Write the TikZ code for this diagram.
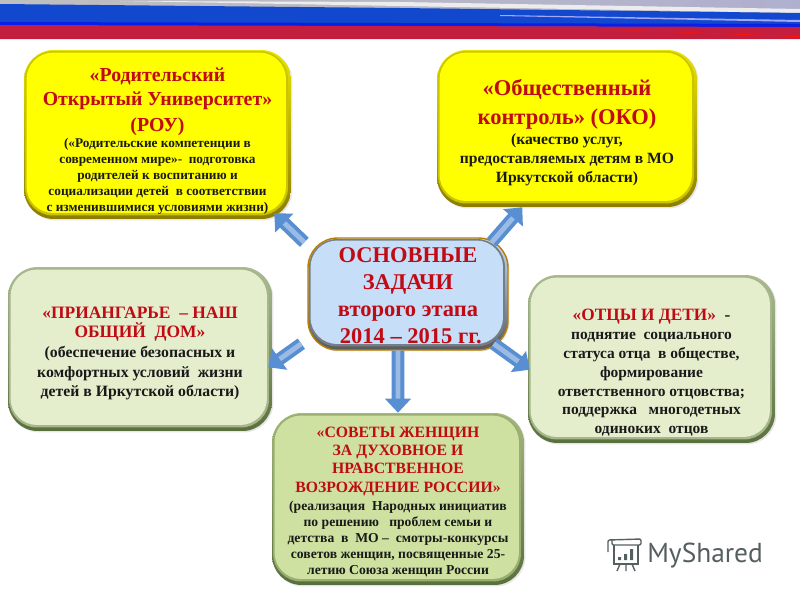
\documentclass[tikz,border=0pt]{standalone}
\usepackage{fontspec}
\setmainfont{Liberation Serif}
\newfontfamily\logofont{PT Sans}
\usepackage{xcolor}
\definecolor{TaskRed}{RGB}{192,10,20}
\definecolor{TaskInk}{RGB}{25,25,25}
\definecolor{TaskYellow}{RGB}{255,255,0}
\definecolor{TaskGold}{RGB}{140,125,0}
\definecolor{TaskBlue}{RGB}{198,222,248}
\definecolor{TaskLeaf}{RGB}{206,225,160}
\definecolor{TaskPale}{RGB}{228,238,205}
\definecolor{TaskMoss}{RGB}{90,112,60}
\definecolor{FlagBlue}{RGB}{18,72,205}
\definecolor{FlagRed}{RGB}{196,30,62}
\definecolor{ArrowBlue}{RGB}{88,142,210}
\definecolor{LogoGrey}{RGB}{85,95,95}
\usepackage{tikz}
\usetikzlibrary{arrows.meta,shadows}
\newcommand*{\redline}[1]{\fontsize{#1}{#1}\selectfont\color{TaskRed}}
\newcommand*{\inkline}[1]{\fontsize{#1}{#1}\selectfont\color{TaskInk}}
\newcommand*{\topgap}[1]{\rule{0pt}{#1pt}}
\tikzset{
  panel/.style n args={4}{rounded corners=21pt,align=center,
    font=\bfseries\fontsize{10}{#4}\selectfont,
    inner sep=0pt,top color=#1,bottom color=#2,
    drop shadow={shadow xshift=1pt,shadow yshift=-1pt,opacity=.2},
    path picture={
      \fill[#3!55!#2,rounded corners=20pt]
        ([shift={(1,1)}]path picture bounding box.north west) rectangle
        ([shift={(-3,-3.5)}]path picture bounding box.south east);
      \fill[#3,rounded corners=19pt]
        ([shift={(2.5,2.5)}]path picture bounding box.north west) rectangle
        ([shift={(-5,-6)}]path picture bounding box.south east);
    }},
  blockarrow/.style={line width=9pt,draw=ArrowBlue,
    -{Triangle[width=18pt,length=10pt]},
    postaction={draw=ArrowBlue!60!white,line width=3.5pt,-,shorten >=10pt}},
}
\begin{document}
\begin{tikzpicture}[x=0.025cm,y=-0.025cm]
    \useasboundingbox (0,0) rectangle (800,600);
    % flag band
    \shade[left color=gray!50,right color=blue!25!gray!50] (0,0) rectangle (800,14);
    \fill[white!85!gray] (120,1) -- (400,6) -- (800,13) -- (800,9) -- (400,2) -- cycle;
    \fill[FlagBlue] (0,4) -- (200,6) -- (400,8) -- (800,13) -- (800,27) -- (0,26) -- cycle;
    \fill[blue!55!FlagBlue] (0,22) -- (800,24) -- (800,27) -- (0,26) -- cycle;
    \fill[blue!35!white] (500,15) -- (800,20) -- (800,22) -- (500,16) -- cycle;
    \fill[FlagRed] (0,25) -- (800,27) -- (800,39) -- (0,39) -- cycle;
    \fill[red!85!orange] (590,29) -- (800,36) -- (800,37) -- cycle;
    % panels
    \node[panel={TaskYellow!80!TaskGold}{TaskGold}{TaskYellow}{11.4},minimum width=267*0.711pt,minimum height=169*0.711pt]
      (rou) at (157.5,134.5) {\redline{14.1}\topgap{19}«Родительский\\[4.2pt]
      \redline{14.1}Открытый Университет»\\[4.2pt]
      \redline{14.1}(РОУ)\\[0pt]
      \inkline{9.45}(«Родительские компетенции в\\
      \inkline{9.45}современном мире»-~ подготовка\\
      \inkline{9.45}родителей к воспитанию и\\
      \inkline{9.45}социализации детей~ в соответствии\\
      \inkline{9.45}с изменившимися условиями жизни)};
    \node[panel={TaskYellow!80!TaskGold}{TaskGold}{TaskYellow}{13.2},minimum width=260*0.711pt,minimum height=157*0.711pt]
      (oko) at (567,128.5) {\redline{16}\topgap{17}«Общественный\\[6pt]
      \redline{16}контроль» (ОКО)\\[1pt]
      \inkline{11.1}(качество услуг,\\
      \inkline{11.1}предоставляемых детям в МО\\
      \inkline{11.1}Иркутской области)};
    \node[panel={TaskPale!60!TaskMoss}{TaskMoss}{TaskPale}{14},minimum width=264*0.711pt,minimum height=164*0.711pt]
      (home) at (140,349) {\redline{12.4}\topgap{14.5}«ПРИАНГАРЬЕ~ – НАШ\\
      \redline{12.4}ОБЩИЙ~ ДОМ»\\
      \inkline{11.2}(обеспечение безопасных и\\
      \inkline{11.2}комфортных условий~ жизни\\
      \inkline{11.2}детей в Иркутской области)};
    \node[panel={TaskPale!60!TaskMoss}{TaskMoss}{TaskPale}{13.4},minimum width=247*0.711pt,minimum height=168*0.711pt]
      (dads) at (651.5,359) {\redline{12.3}\topgap{27.8}«ОТЦЫ И ДЕТИ»~~\color{TaskInk}-\\
      \inkline{11}поднятие~ социального\\
      \inkline{11}статуса отца~ в обществе,\\
      \inkline{11}формирование\\
      \inkline{11}ответственного отцовства;\\
      \inkline{11}поддержка~~ многодетных\\
      \inkline{11}одиноких~ отцов};
    \node[panel={TaskLeaf!65!TaskMoss}{TaskMoss}{TaskLeaf}{11.4},minimum width=252*0.711pt,minimum height=172*0.711pt]
      (women) at (398,499) {\redline{11.2}\topgap{11.4}«СОВЕТЫ ЖЕНЩИН\\[1.6pt]
      \redline{11.2}ЗА ДУХОВНОЕ И\\[1.6pt]
      \redline{11.2}НРАВСТВЕННОЕ\\[1.6pt]
      \redline{11.2}ВОЗРОЖДЕНИЕ РОССИИ»\\[1.4pt]
      \inkline{9.7}(реализация~ Народных инициатив\\
      \inkline{9.7}по решению~ ~проблем семьи и\\
      \inkline{9.7}детства~ в~ МО –~ смотры-конкурсы\\
      \inkline{9.7}советов женщин, посвященные 25-\\
      \inkline{9.7}летию Союза женщин России};
    \node[panel={TaskBlue}{gray!70!black}{TaskBlue}{19},draw=TaskGold!60!orange,line width=1pt,
      minimum width=200*0.711pt,minimum height=112*0.711pt]
      (tasks) at (408,294) {\redline{16}\topgap{13}ОСНОВНЫЕ\\
      \redline{16}ЗАДАЧИ\\
      \redline{16}второго этапа\\
      \redline{16}~2014 – 2015 гг.};
    % arrows
    \draw[blockarrow] ([shift={(-3,5)}]tasks.north west) -- ([shift={(-17,-6)}]rou.south east);
    \draw[blockarrow] ([shift={(-17,5)}]tasks.north east) -- ([shift={(-175,0)}]oko.south east);
    \draw[blockarrow] ([shift={(-6,-7)}]tasks.south west) -- ([shift={(-4,-64)}]home.south east);
    \draw[blockarrow] ([shift={(-15,-7)}]tasks.south east) -- ([shift={(2,95)}]dads.north west);
    \draw[blockarrow] ([xshift=-10*0.711pt]tasks.south) -- (women.north);
    % logo
    \node[text=LogoGrey,font=\logofont\fontsize{19.5}{22}\selectfont,anchor=base west,inner sep=0pt]
      (logo) at (647,562) {MyShared};
    \draw[LogoGrey,line width=1pt,rounded corners=1pt] (608,552) -- (608,540) -- (641,539) -- (641,545) -- (612,545) -- (612,540);
    \draw[LogoGrey,line width=1pt] (614,545) -- (614,564) -- (638,564) -- (638,545);
    \draw[LogoGrey,line width=1pt] (620,564) -- (617,571) (632,564) -- (635,571) (626,564) -- (626,571);
    \fill[LogoGrey] (618,557) rectangle ++(3,3) (624,554) rectangle ++(3,6) (630,549) rectangle ++(3,11);
\end{tikzpicture}
\end{document}
